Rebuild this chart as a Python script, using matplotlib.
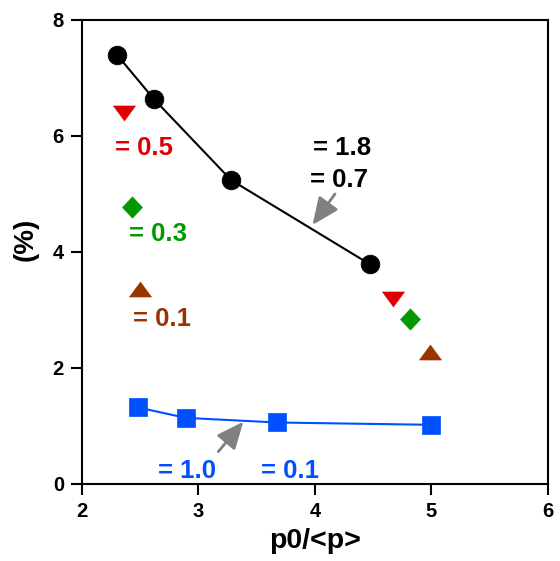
import matplotlib
matplotlib.use("Agg")
import matplotlib.pyplot as plt

plt.rcParams['font.family'] = ['Liberation Sans', 'DejaVu Sans']
plt.rcParams['font.weight'] = 'bold'

# series values
circ_x = [2.30, 2.62, 3.28, 4.47]
circ_y = [7.40, 6.63, 5.24, 3.79]
sq_x = [2.48, 2.89, 3.67, 5.00]
sq_y = [1.32, 1.14, 1.06, 1.02]
red_x = [2.36, 4.67]
red_y = [6.40, 3.19]
green_x = [2.43, 4.82]
green_y = [4.78, 2.85]
brown_x = [2.50, 4.99]
brown_y = [3.37, 2.27]

x_ticks = [2, 3, 4, 5, 6]
y_ticks = [0, 2, 4, 6, 8]

BLACK = '#000000'
BLUE = '#0050FF'
RED = '#DD0000'
GREEN = '#009900'
BROWN = '#993300'
GRAY = '#808080'

# flattened triangles and a slightly tall diamond
tri_down = [(-1, 0.68), (1, 0.68), (0, -0.68), (-1, 0.68)]
tri_up = [(-1, -0.68), (1, -0.68), (0, 0.68), (-1, -0.68)]
diamond = [(0, 1), (0.94, 0), (0, -1), (-0.94, 0), (0, 1)]

fig = plt.figure(figsize=(5.6, 5.61), dpi=100)
ax = fig.add_axes([0.1464, 0.1373, 0.8321, 0.8271])

ax.plot(circ_x, circ_y, '-', color=BLACK, lw=1.5, marker='o', ms=13.5,
        mfc=BLACK, mec=BLACK, mew=0.5, zorder=3)
ax.plot(sq_x, sq_y, '-', color=BLUE, lw=1.5, marker='s', ms=13,
        mfc=BLUE, mec=BLUE, mew=0.5, zorder=3)
ax.plot(red_x, red_y, ls='none', marker=tri_down, ms=16, color=RED,
        mew=0.3, zorder=3)
ax.plot(green_x, green_y, ls='none', marker=diamond, ms=15.5, color=GREEN,
        mew=0.3, zorder=3)
ax.plot(brown_x, brown_y, ls='none', marker=tri_up, ms=16, color=BROWN,
        mew=0.3, zorder=3)

# value annotations
fs = 18.5
ax.text(2.535, 5.67, '= 0.5', color=RED, fontsize=fs, fontweight='bold',
        ha='center', va='baseline')
ax.text(2.652, 4.19, '= 0.3', color=GREEN, fontsize=fs, fontweight='bold',
        ha='center', va='baseline')
ax.text(2.684, 2.73, '= 0.1', color=BROWN, fontsize=fs, fontweight='bold',
        ha='center', va='baseline')
ax.text(4.232, 5.67, '= 1.8', color=BLACK, fontsize=fs, fontweight='bold',
        ha='center', va='baseline')
ax.text(4.206, 5.115, '= 0.7', color=BLACK, fontsize=fs, fontweight='bold',
        ha='center', va='baseline')
ax.text(2.901, 0.098, '= 1.0', color=BLUE, fontsize=fs, fontweight='bold',
        ha='center', va='baseline')
ax.text(3.785, 0.098, '= 0.1', color=BLUE, fontsize=fs, fontweight='bold',
        ha='center', va='baseline')

arrow_style = dict(arrowstyle='-|>,head_length=1.1,head_width=0.48',
                   color=GRAY, lw=2, mutation_scale=15,
                   shrinkA=0, shrinkB=0)
ax.annotate('', xy=(3.979, 4.466), xytext=(4.172, 5.0),
            arrowprops=arrow_style, zorder=4)
ax.annotate('', xy=(3.385, 1.074), xytext=(3.17, 0.557),
            arrowprops=arrow_style, zorder=4)

ax.set_xlim(2, 6)
ax.set_ylim(0, 8)
ax.set_xticks(x_ticks)
ax.set_yticks(y_ticks)
ax.set_xticklabels([str(v) for v in x_ticks])
ax.set_yticklabels([str(v) for v in y_ticks])

for s in ax.spines.values():
    s.set_linewidth(1.5)
    s.set_color(BLACK)

ax.tick_params(direction='out', length=8, width=1.5, pad=5,
               labelsize=14.5, colors=BLACK)
for lab in ax.get_xticklabels() + ax.get_yticklabels():
    lab.set_fontweight('bold')

ax.set_xlabel('p0/<p>', fontsize=20.5, fontweight='bold', labelpad=5)
ax.set_ylabel('(%)', fontsize=20, fontweight='bold')
ax.yaxis.set_label_coords(-0.094, 0.528)

fig.savefig('out.png', dpi=100)
